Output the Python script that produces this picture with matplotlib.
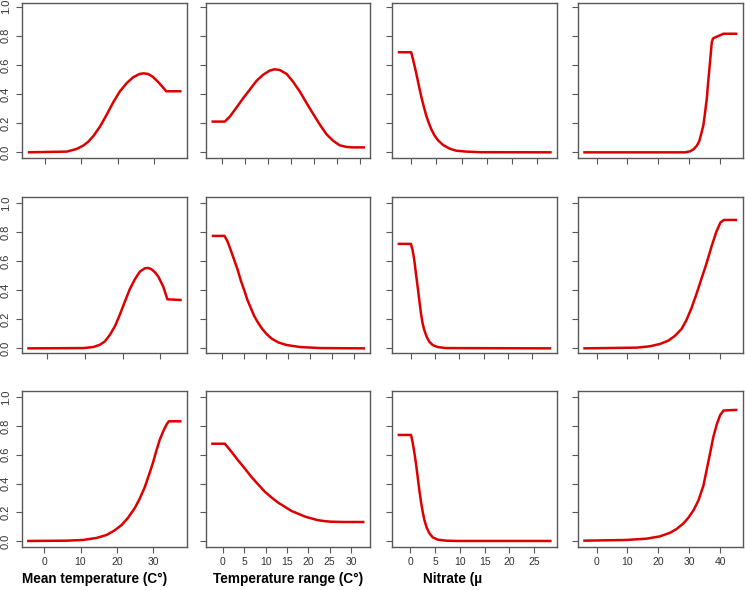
import matplotlib
matplotlib.use("Agg")
import matplotlib.pyplot as plt

# ---------------- data ----------------
x_labels = ["Mean temperature (C°)", "Temperature range (C°)", "Nitrate (µ", ""]
x_ticks = [[0, 10, 20, 30],
           [0, 5, 10, 15, 20, 25, 30],
           [0, 5, 10, 15, 20, 25],
           [0, 10, 20, 30, 40]]
y_ticks = [0.0, 0.2, 0.4, 0.6, 0.8, 1.0]
y_tick_labels = ["0.0", "0.2", "0.4", "0.6", "0.8", "1.0"]

# Row 1
r1_temp_x = [-4.7, 6.0, 8.7, 10.5, 11.9, 13.3, 15.1, 16.9, 18.7, 20.5, 22.4, 24.2, 26.0, 27.1, 28.3, 29.6, 31.0, 32.4, 33.3, 37.5]
r1_temp_y = [0.0, 0.005, 0.023, 0.046, 0.073, 0.112, 0.176, 0.256, 0.341, 0.416, 0.474, 0.515, 0.538, 0.542, 0.538, 0.519, 0.485, 0.446, 0.419, 0.419]
r1_range_x = [-2.4, 0.5, 1.6, 3.1, 4.5, 6.0, 7.4, 8.9, 10.3, 11.4, 12.5, 14.0, 15.4, 16.9, 18.3, 19.8, 21.3, 22.7, 24.2, 25.6, 27.1, 28.2, 31.1]
r1_range_y = [0.211, 0.211, 0.245, 0.309, 0.371, 0.432, 0.49, 0.533, 0.561, 0.570, 0.565, 0.538, 0.485, 0.416, 0.341, 0.263, 0.188, 0.124, 0.078, 0.048, 0.037, 0.034, 0.034]
r1_nitr_x = [-2.65, 0.0, 0.46, 0.99, 1.53, 1.99, 2.52, 2.98, 3.51, 3.98, 4.64, 5.31, 6.30, 7.63, 8.95, 10.94, 13.59, 27.85]
r1_nitr_y = [0.687, 0.687, 0.625, 0.545, 0.457, 0.384, 0.311, 0.253, 0.2, 0.159, 0.115, 0.083, 0.051, 0.025, 0.011, 0.005, 0.001, 0.0]
r1_sal_x = [-4.3, 28.6, 30.3, 31.4, 32.4, 33.2, 33.8, 34.6, 35.1, 35.7, 36.2, 36.8, 37.3, 37.7, 38.4, 41.1, 45.6]
r1_sal_y = [0.0, 0.0, 0.007, 0.021, 0.044, 0.074, 0.12, 0.189, 0.269, 0.372, 0.499, 0.637, 0.756, 0.782, 0.789, 0.814, 0.814]

# Row 2
r2_temp_x = [-5.3, 9.6, 12.2, 14.0, 15.3, 16.6, 18.0, 19.3, 20.6, 21.9, 23.3, 24.6, 25.9, 26.8, 27.7, 28.6, 29.5, 30.8, 31.9, 35.7]
r2_temp_y = [0.0, 0.002, 0.009, 0.025, 0.048, 0.092, 0.154, 0.234, 0.322, 0.407, 0.478, 0.529, 0.552, 0.554, 0.545, 0.524, 0.494, 0.425, 0.338, 0.333]
r2_range_x = [-2.3, 0.6, 1.3, 2.0, 2.8, 3.6, 4.3, 5.1, 5.8, 6.6, 7.3, 8.1, 9.1, 10.2, 11.3, 12.8, 14.7, 17.8, 22.3, 32.5]
r2_range_y = [0.775, 0.775, 0.736, 0.678, 0.609, 0.54, 0.467, 0.398, 0.333, 0.276, 0.225, 0.182, 0.136, 0.097, 0.067, 0.041, 0.023, 0.009, 0.002, 0.0]
r2_nitr_x = [-2.75, 0.0, 0.34, 0.69, 1.03, 1.38, 1.72, 2.07, 2.41, 2.75, 3.24, 3.79, 4.48, 5.51, 7.23, 28.9]
r2_nitr_y = [0.72, 0.72, 0.678, 0.609, 0.517, 0.425, 0.333, 0.241, 0.172, 0.126, 0.08, 0.046, 0.023, 0.009, 0.002, 0.0]
r2_sal_x = [-4.3, 12.9, 17.2, 20.5, 23.2, 25.3, 27.5, 29.1, 30.7, 32.3, 33.9, 35.6, 37.2, 38.8, 40.1, 41.2, 45.5]
r2_sal_y = [0.0, 0.005, 0.014, 0.03, 0.053, 0.085, 0.133, 0.195, 0.276, 0.372, 0.476, 0.586, 0.701, 0.805, 0.867, 0.885, 0.885]

# Row 3
r3_temp_x = [-4.7, 6.1, 10.7, 14.4, 17.2, 19.4, 21.3, 23.1, 25.0, 26.3, 27.7, 29.1, 30.0, 30.9, 31.8, 32.8, 33.7, 34.3, 37.8]
r3_temp_y = [0.0, 0.002, 0.007, 0.021, 0.042, 0.074, 0.111, 0.162, 0.232, 0.295, 0.376, 0.48, 0.55, 0.631, 0.705, 0.766, 0.812, 0.833, 0.833]
r3_range_x = [-2.7, 0.5, 2.1, 3.6, 5.2, 6.7, 8.3, 9.8, 11.4, 12.9, 14.5, 16.0, 17.6, 19.1, 20.7, 22.2, 23.8, 25.3, 28.4, 33.1]
r3_range_y = [0.677, 0.677, 0.619, 0.561, 0.503, 0.446, 0.393, 0.344, 0.303, 0.268, 0.238, 0.21, 0.19, 0.171, 0.157, 0.145, 0.138, 0.134, 0.132, 0.132]
r3_nitr_x = [-2.57, 0.14, 0.47, 0.81, 1.15, 1.49, 1.82, 2.16, 2.5, 2.84, 3.31, 3.85, 4.53, 5.54, 7.23, 9.59, 28.5]
r3_nitr_y = [0.738, 0.738, 0.685, 0.616, 0.536, 0.444, 0.352, 0.271, 0.202, 0.145, 0.092, 0.053, 0.025, 0.009, 0.002, 0.0, 0.0]
r3_sal_x = [-4.3, 9.7, 16.2, 20.5, 23.8, 25.9, 28.1, 29.7, 31.4, 33.0, 34.6, 35.7, 36.8, 37.8, 38.9, 40.0, 41.1, 45.6]
r3_sal_y = [0.002, 0.007, 0.016, 0.032, 0.057, 0.083, 0.122, 0.161, 0.214, 0.283, 0.386, 0.501, 0.616, 0.724, 0.811, 0.876, 0.908, 0.913]

curves = [
    [(r1_temp_x, r1_temp_y), (r1_range_x, r1_range_y), (r1_nitr_x, r1_nitr_y), (r1_sal_x, r1_sal_y)],
    [(r2_temp_x, r2_temp_y), (r2_range_x, r2_range_y), (r2_nitr_x, r2_nitr_y), (r2_sal_x, r2_sal_y)],
    [(r3_temp_x, r3_temp_y), (r3_range_x, r3_range_y), (r3_nitr_x, r3_nitr_y), (r3_sal_x, r3_sal_y)],
]

# ---------------- layout ----------------
W, H = 745, 590
col_px = [(22, 187), (206, 370), (392, 557), (578, 743)]
row_px = [(2.7, 158.3), (197.3, 353.3), (391, 547)]
row_ylim = [(-0.041, 1.027), (-0.034, 1.041), (-0.042, 1.044)]
panel_xlim = [
    [(-6.3, 39.0), (-3.6, 32.2), (-3.8, 28.9), (-6.0, 47.4)],
    [(-6.7, 37.1), (-3.6, 33.6), (-3.9, 30.1), (-6.0, 47.4)],
    [(-6.1, 39.3), (-3.9, 34.4), (-3.7, 29.6), (-6.0, 47.4)],
]
xlabel_pos = [(0.0, "left"), (0.5, "center"), (0.19, "left"), (0.5, "center")]

font = ["Liberation Sans", "DejaVu Sans"]
plt.rcParams["font.family"] = font

fig = plt.figure(figsize=(W / 100, H / 100), dpi=100)
fig.patch.set_facecolor("white")

frame_col = "#585858"
line_col = "#dd0000"

for r in range(3):
    for c in range(4):
        x0, x1 = col_px[c]
        top, bot = row_px[r]
        ax = fig.add_axes([x0 / W, 1 - bot / H, (x1 - x0) / W, (bot - top) / H])
        xs, ys = curves[r][c]
        ax.plot(xs, ys, color=line_col, lw=1.8, solid_joinstyle="round",
                solid_capstyle="butt")
        ax.set_xlim(*panel_xlim[r][c])
        ax.set_ylim(*row_ylim[r])
        ax.set_xticks(x_ticks[c])
        ax.set_yticks(y_ticks)
        for s in ax.spines.values():
            s.set_color(frame_col)
            s.set_linewidth(1.0)
        ax.tick_params(axis="both", direction="out", length=4, width=0.8,
                       color=frame_col, labelcolor="#333333")
        ax.tick_params(axis="x", pad=3.5, labelsize=7.5)
        ax.tick_params(axis="y", pad=4.0, labelsize=8)
        if c == 0:
            ax.set_yticklabels(y_tick_labels, rotation=90, va="center")
        else:
            ax.set_yticklabels([])
        if r == 2:
            ax.set_xticklabels([str(v) for v in x_ticks[c]])
            if x_labels[c]:
                xp, ha = xlabel_pos[c]
                ax.text(xp, -0.208, x_labels[c], transform=ax.transAxes,
                        ha=ha, va="center", fontsize=9.8, fontweight="bold",
                        color="black")
        else:
            ax.set_xticklabels([])

fig.savefig("out.png", dpi=100, facecolor="white")
